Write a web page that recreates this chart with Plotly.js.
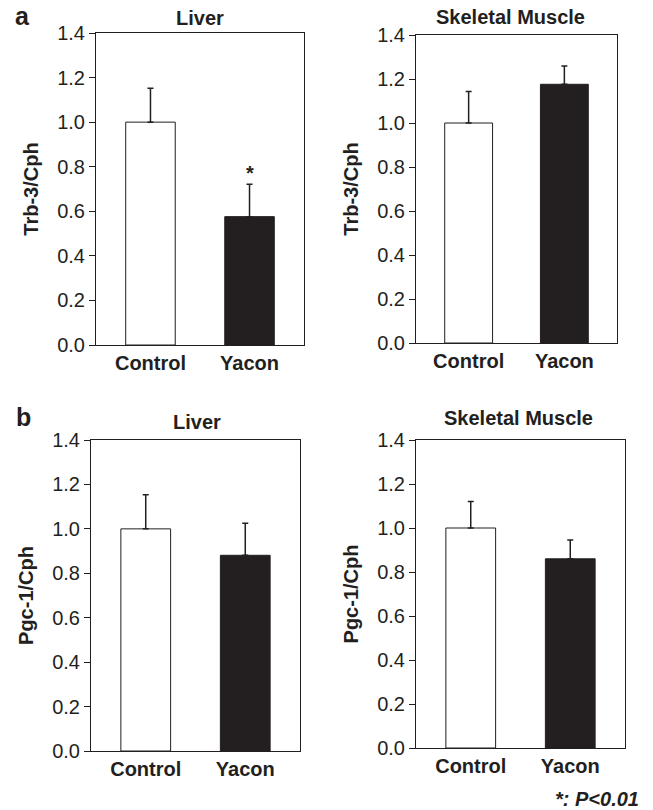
<!DOCTYPE html>
<html>
<head>
<meta charset="utf-8">
<script src="https://cdn.plot.ly/plotly-3.0.1.min.js"></script>
<style>
html,body{margin:0;padding:0;background:#fff;}
#chart{width:653px;height:810px;}
</style>
</head>
<body>
<div id="chart"></div>
<script>
// ---- data ----
const categories = ['Control', 'Yacon'];
const trb3Liver = [1.0, 0.576];
const trb3LiverErr = [0.152, 0.145];
const trb3Muscle = [1.0, 1.176];
const trb3MuscleErr = [0.143, 0.083];
const pgc1Liver = [1.0, 0.881];
const pgc1LiverErr = [0.153, 0.144];
const pgc1Muscle = [1.0, 0.860];
const pgc1MuscleErr = [0.120, 0.086];
const yTickVals = [0, 0.2, 0.4, 0.6, 0.8, 1.0, 1.2, 1.4];
const panelTitles = ['Liver', 'Skeletal Muscle', 'Liver', 'Skeletal Muscle'];
const yTitles = ['Trb-3/Cph', 'Trb-3/Cph', 'Pgc-1/Cph', 'Pgc-1/Cph'];

// ---- style ----
const W = 653, H = 810;
const INK = '#231f20';
const FONT = 'Liberation Sans, Arial, Helvetica, sans-serif';
const barColors = ['#ffffff', INK];

// panel boxes in px: [left, right, top, bottom]
const boxes = [
  [96, 304, 33, 345],
  [416, 617, 35, 343],
  [91, 300, 440, 751],
  [416, 625, 440, 748]
];

const series = [
  [trb3Liver, trb3LiverErr],
  [trb3Muscle, trb3MuscleErr],
  [pgc1Liver, pgc1LiverErr],
  [pgc1Muscle, pgc1MuscleErr]
];

const data = [];
const layout = {
  width: W, height: H,
  margin: {l: 0, r: 0, t: 0, b: 0},
  paper_bgcolor: '#fff', plot_bgcolor: '#fff',
  showlegend: false,
  font: {family: FONT, color: INK},
  annotations: []
};

series.forEach((s, i) => {
  const n = i + 1;
  const xa = n === 1 ? 'x' : 'x' + n;
  const ya = n === 1 ? 'y' : 'y' + n;
  data.push({
    type: 'bar',
    x: categories,
    y: s[0],
    xaxis: xa, yaxis: ya,
    width: 0.5,
    marker: {color: barColors, line: {color: INK, width: 1}},
    error_y: {type: 'data', symmetric: false, array: s[1], arrayminus: [0, 0],
              color: INK, thickness: 1.5, width: 3},
    hoverinfo: 'none'
  });
  const b = boxes[i];
  layout['xaxis' + (n === 1 ? '' : n)] = {
    domain: [b[0] / W, b[1] / W],
    anchor: ya,
    type: 'category',
    range: [-0.55, 1.55],
    showline: true, mirror: true, linecolor: INK, linewidth: 1,
    showgrid: false, zeroline: false,
    ticks: '',
    tickfont: {family: FONT, size: 20, color: INK, weight: 'bold'},
    fixedrange: true
  };
  layout['yaxis' + (n === 1 ? '' : n)] = {
    domain: [1 - b[3] / H, 1 - b[2] / H],
    anchor: xa,
    range: [0, 1.4],
    tickvals: yTickVals,
    tickformat: '.1f',
    showline: true, mirror: true, linecolor: INK, linewidth: 1,
    showgrid: false, zeroline: false,
    ticks: 'outside', ticklen: 6, tickwidth: 1, tickcolor: INK,
    tickfont: {family: FONT, size: 20, color: INK},
    title: {text: yTitles[i], font: {family: FONT, size: 20, color: INK, weight: 'bold'}, standoff: 13},
    fixedrange: true
  };
});

// panel titles
const titlePos = [[200, 18], [510, 17], [197, 422], [518, 418]];
titlePos.forEach((p, i) => {
  layout.annotations.push({
    xref: 'paper', yref: 'paper', x: p[0] / W, y: 1 - p[1] / H,
    xanchor: 'center', yanchor: 'middle', showarrow: false,
    text: panelTitles[i],
    font: {family: FONT, size: 20, color: INK, weight: 'bold'}
  });
});

// panel letters
[['a', 22, 16], ['b', 23, 417]].forEach(l => {
  layout.annotations.push({
    xref: 'paper', yref: 'paper', x: l[1] / W, y: 1 - l[2] / H,
    xanchor: 'center', yanchor: 'middle', showarrow: false,
    text: l[0],
    font: {family: FONT, size: 25, color: INK, weight: 'bold'}
  });
});

// significance star
layout.annotations.push({
  xref: 'x', yref: 'y', x: 'Yacon', y: trb3Liver[1] + trb3LiverErr[1],
  xanchor: 'center', yanchor: 'bottom', yshift: -2, showarrow: false,
  text: '*',
  font: {family: FONT, size: 20, color: INK, weight: 'bold'}
});

// footnote
layout.annotations.push({
  xref: 'paper', yref: 'paper', x: 641 / W, y: 1 - 799 / H,
  xanchor: 'right', yanchor: 'middle', showarrow: false,
  text: '<b><i>*: P&lt;0.01</i></b>',
  font: {family: FONT, size: 20, color: INK}
});

Plotly.newPlot('chart', data, layout, {displayModeBar: false, staticPlot: true});
</script>
</body>
</html>
